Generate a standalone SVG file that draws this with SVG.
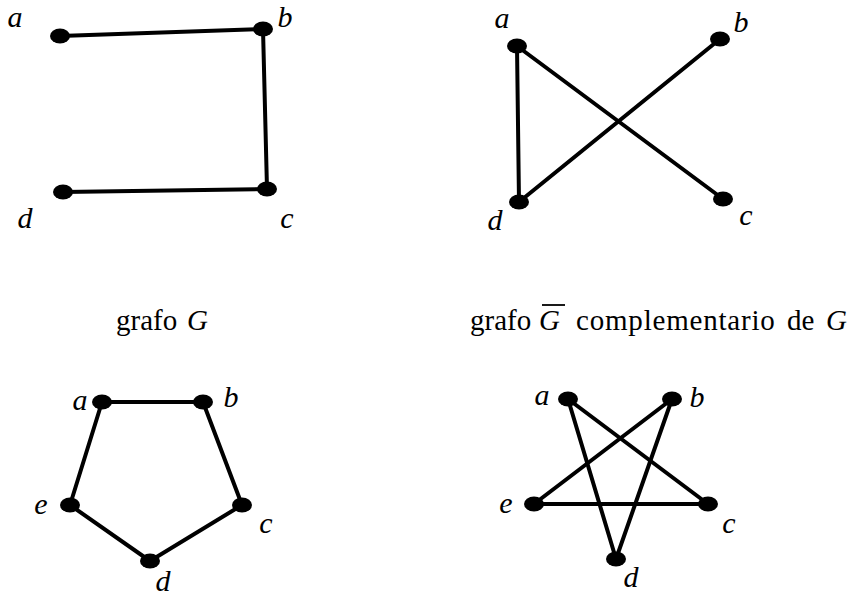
<svg xmlns="http://www.w3.org/2000/svg" width="851" height="597" viewBox="0 0 851 597">
<style>
.edge{stroke:#000;stroke-width:4;stroke-linecap:round;fill:none}
.node{fill:#000}
.lbl{font-family:"Liberation Serif","Times New Roman",serif;font-style:italic;font-size:30px;fill:#000;text-anchor:middle}
.cap{font-family:"Liberation Serif","Times New Roman",serif;font-size:29px;fill:#000}
.it{font-style:italic}
</style>
<rect width="851" height="597" fill="#fff"/>
<g id="connectors">
  <line class="edge" x1="60" y1="36" x2="263" y2="29"/>
  <line class="edge" x1="263" y1="29" x2="267" y2="189"/>
  <line class="edge" x1="267" y1="189" x2="63" y2="192"/>
  <line class="edge" x1="517" y1="46" x2="519" y2="202"/>
  <line class="edge" x1="517" y1="46" x2="723" y2="199"/>
  <line class="edge" x1="720" y1="39" x2="519" y2="202"/>
  <line class="edge" x1="102" y1="402" x2="203" y2="402"/>
  <line class="edge" x1="203" y1="402" x2="242" y2="505"/>
  <line class="edge" x1="242" y1="505" x2="150" y2="561"/>
  <line class="edge" x1="150" y1="561" x2="70" y2="505"/>
  <line class="edge" x1="70" y1="505" x2="102" y2="402"/>
  <line class="edge" x1="568" y1="399" x2="616" y2="559"/>
  <line class="edge" x1="568" y1="399" x2="708" y2="504"/>
  <line class="edge" x1="672" y1="399" x2="534" y2="504"/>
  <line class="edge" x1="672" y1="399" x2="616" y2="559"/>
  <line class="edge" x1="534" y1="504" x2="708" y2="504"/>
</g>
<g id="G-a"><ellipse class="node" cx="60" cy="36" rx="10" ry="7.5"/><text class="lbl" x="15" y="27">a</text></g>
<g id="G-b"><ellipse class="node" cx="263" cy="29" rx="10" ry="7.5"/><text class="lbl" x="285" y="27">b</text></g>
<g id="G-c"><ellipse class="node" cx="267" cy="189" rx="10" ry="7.5"/><text class="lbl" x="287" y="228">c</text></g>
<g id="G-d"><ellipse class="node" cx="63" cy="192" rx="10" ry="7.5"/><text class="lbl" x="25" y="228">d</text></g>
<g id="Gc-a"><ellipse class="node" cx="517" cy="46" rx="10" ry="7.5"/><text class="lbl" x="502" y="28">a</text></g>
<g id="Gc-b"><ellipse class="node" cx="720" cy="39" rx="10" ry="7.5"/><text class="lbl" x="741" y="32">b</text></g>
<g id="Gc-c"><ellipse class="node" cx="723" cy="199" rx="10" ry="7.5"/><text class="lbl" x="746" y="225">c</text></g>
<g id="Gc-d"><ellipse class="node" cx="519" cy="202" rx="10" ry="7.5"/><text class="lbl" x="495" y="230">d</text></g>
<g id="P-a"><ellipse class="node" cx="102" cy="402" rx="10" ry="7.5"/><text class="lbl" x="80" y="410">a</text></g>
<g id="P-b"><ellipse class="node" cx="203" cy="402" rx="10" ry="7.5"/><text class="lbl" x="231" y="407">b</text></g>
<g id="P-c"><ellipse class="node" cx="242" cy="505" rx="10" ry="7.5"/><text class="lbl" x="266" y="533">c</text></g>
<g id="P-d"><ellipse class="node" cx="150" cy="561" rx="10" ry="7.5"/><text class="lbl" x="163" y="591">d</text></g>
<g id="P-e"><ellipse class="node" cx="70" cy="505" rx="10" ry="7.5"/><text class="lbl" x="41" y="514">e</text></g>
<g id="S-a"><ellipse class="node" cx="568" cy="399" rx="10" ry="7.5"/><text class="lbl" x="542" y="405">a</text></g>
<g id="S-b"><ellipse class="node" cx="672" cy="399" rx="10" ry="7.5"/><text class="lbl" x="697" y="407">b</text></g>
<g id="S-c"><ellipse class="node" cx="708" cy="504" rx="10" ry="7.5"/><text class="lbl" x="729" y="533">c</text></g>
<g id="S-d"><ellipse class="node" cx="616" cy="559" rx="10" ry="7.5"/><text class="lbl" x="631" y="587">d</text></g>
<g id="S-e"><ellipse class="node" cx="534" cy="504" rx="10" ry="7.5"/><text class="lbl" x="506" y="513">e</text></g>
<g id="caption-G"><text class="cap" x="116" y="330">grafo <tspan class="it" x="187">G</tspan></text></g>
<g id="caption-Gc">
  <text class="cap" x="470" y="330">grafo <tspan class="it" x="539">G</tspan><tspan x="576" letter-spacing="0.8">complementario</tspan><tspan x="787">de</tspan><tspan class="it" x="826">G</tspan></text>
  <line x1="542" y1="305" x2="565" y2="305" stroke="#000" stroke-width="1.8"/>
</g>
</svg>
